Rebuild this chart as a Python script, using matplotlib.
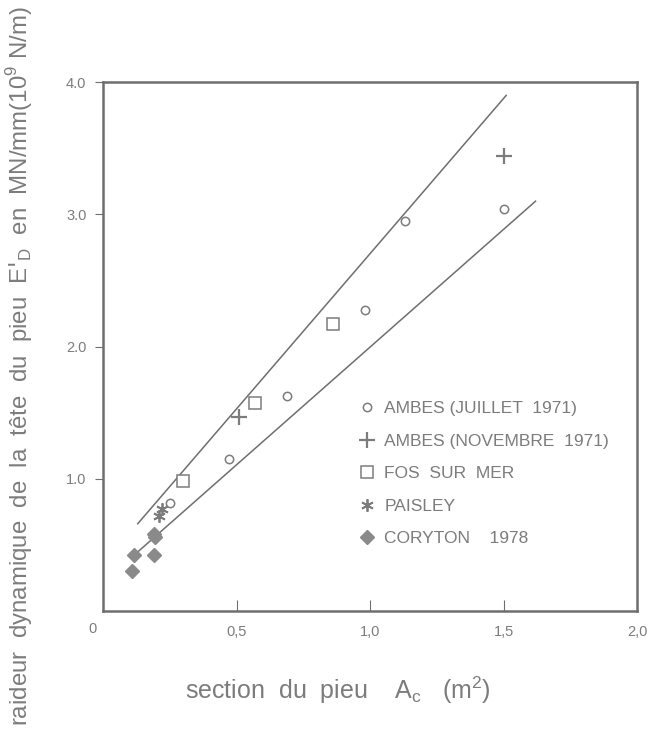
import matplotlib
matplotlib.use("Agg")
import matplotlib.pyplot as plt

plt.rcParams['font.family'] = ['Liberation Sans', 'DejaVu Sans']

GREY = "#7c7c7c"
LINE = "#6e6e6e"

# AMBES (juillet 1971)
ambes_jul_x = [0.25, 0.47, 0.69, 0.98, 1.13, 1.50]
ambes_jul_y = [0.82, 1.15, 1.63, 2.28, 2.95, 3.04]
# AMBES (novembre 1971)
ambes_nov_x = [0.51, 1.50]
ambes_nov_y = [1.47, 3.44]
# FOS SUR MER
fos_x = [0.30, 0.57, 0.86]
fos_y = [0.98, 1.57, 2.17]
# PAISLEY
paisley_x = [0.21, 0.22]
paisley_y = [0.72, 0.77]
# CORYTON 1978
coryton_x = [0.11, 0.115, 0.19, 0.195, 0.19]
coryton_y = [0.30, 0.42, 0.42, 0.56, 0.58]

# droites enveloppes
upper_x = [0.13, 1.51]
upper_y = [0.66, 3.90]
lower_x = [0.115, 1.62]
lower_y = [0.42, 3.10]

x_ticks = [0.5, 1.0, 1.5, 2.0]
x_ticklabels = ["0,5", "1,0", "1,5", "2,0"]
y_ticks = [1.0, 2.0, 3.0, 4.0]
y_ticklabels = ["1.0", "2.0", "3.0", "4.0"]

fig = plt.figure(figsize=(6.5, 7.34), dpi=100)
ax = fig.add_axes([0.1585, 0.1676, 0.8215, 0.7204])

ax.plot(upper_x, upper_y, color=LINE, lw=1.1)
ax.plot(lower_x, lower_y, color=LINE, lw=1.1)

ax.plot(ambes_jul_x, ambes_jul_y, "o", ms=6, mfc="white", mec=GREY, mew=1.1,
        ls="none", label="AMBES (JUILLET  1971)")
ax.plot(ambes_nov_x, ambes_nov_y, "+", ms=11, mec=GREY, mew=1.6,
        ls="none", label="AMBES (NOVEMBRE  1971)")
ax.plot(fos_x, fos_y, "s", ms=8, mfc="white", mec=GREY, mew=1.1,
        ls="none", label="FOS  SUR  MER")
ax.plot(paisley_x, paisley_y, marker=(6, 2, 0), ms=9, mec=GREY, mew=1.3,
        ls="none", label="PAISLEY")
ax.plot(coryton_x, coryton_y, "D", ms=7, color="#8a8a8a",
        ls="none", label="CORYTON    1978")

ax.set_xlim(0, 2.0)
ax.set_ylim(0, 4.0)
ax.set_xticks(x_ticks)
ax.set_xticklabels(x_ticklabels)
ax.set_yticks(y_ticks)
ax.set_yticklabels(y_ticklabels)
ax.tick_params(axis="x", direction="in", length=8, colors=LINE, labelcolor=GREY,
               labelsize=10.5, pad=10)
ax.tick_params(axis="y", direction="out", length=6, colors=LINE, labelcolor=GREY,
               labelsize=10.5, pad=6)
for s in ax.spines.values():
    s.set_color(LINE)
    s.set_linewidth(1.8)

ax.text(-0.012, -0.02, "0", color=GREY, fontsize=10.5, ha="right", va="top",
        transform=ax.transAxes)

leg = ax.legend(loc="upper left", bbox_to_anchor=(0.465, 0.41), frameon=False,
                labelspacing=1.0, handletextpad=0.5, handlelength=1.0,
                fontsize=12.5, labelcolor=GREY, borderaxespad=0)

fig.text(0.03, 0.502, "raideur  dynamique  de  la  tête  du  pieu  E$'_\\mathregular{D}$  en  MN/mm(10$^\\mathregular{9}$ N/m)",
         rotation=90, color=GREY, fontsize=17.3, ha="center", va="center")
fig.text(0.52, 0.06, "section  du  pieu    A$_\\mathregular{c}$   (m$^\\mathregular{2}$)",
         color=GREY, fontsize=18, ha="center", va="center")

fig.savefig("out.png", dpi=100, facecolor="white")
